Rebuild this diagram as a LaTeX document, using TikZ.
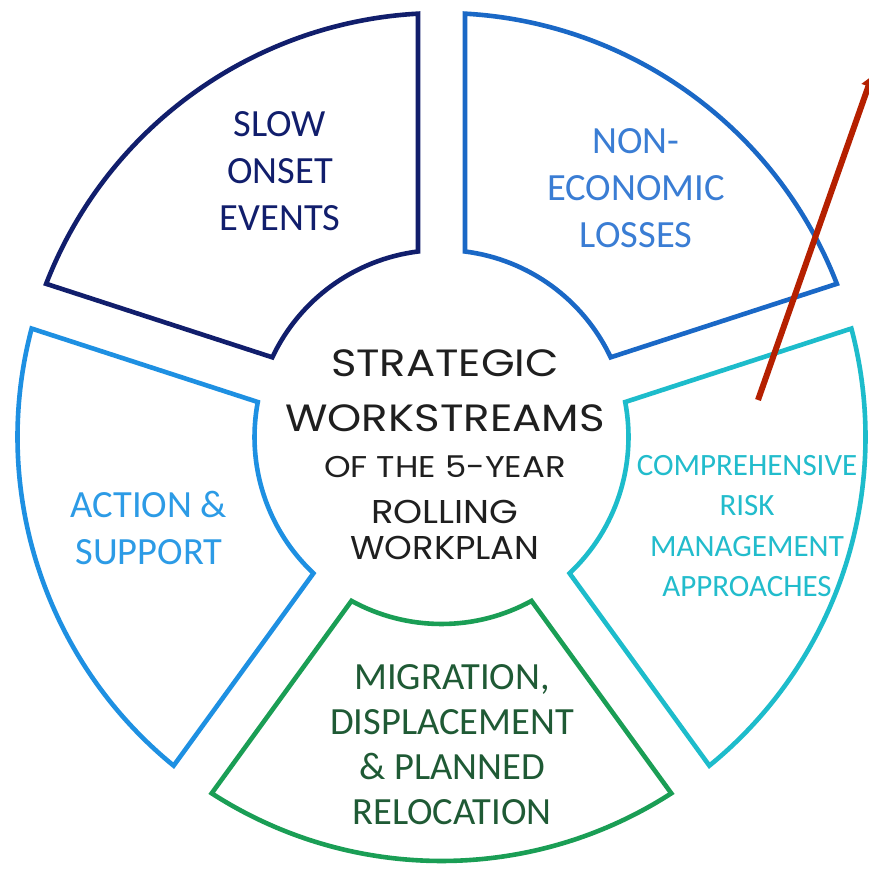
\documentclass[tikz,border=0pt]{standalone}
\usepackage{fontspec}
\setmainfont{Carlito}
\newfontfamily\geofont{Poppins}
\usetikzlibrary{arrows.meta}
\definecolor{navyc}{HTML}{111E6C}
\definecolor{bluec}{HTML}{1A68C6}
\definecolor{bluet}{HTML}{3A7DD4}
\definecolor{cyanc}{HTML}{1DBCCB}
\definecolor{cyant}{HTML}{22BCCC}
\definecolor{greenc}{HTML}{1A9E55}
\definecolor{greent}{HTML}{1F5A35}
\definecolor{actc}{HTML}{1E90E2}
\definecolor{actt}{HTML}{2C9BE6}
\definecolor{redc}{HTML}{B52000}
\tikzset{
  seg/.style={line width=4.6pt, line join=miter},
  lab/.style={align=center, font=\fontsize{38.5}{47}\selectfont, inner sep=0pt},
  smlab/.style={align=center, font=\fontsize{31}{40.5}\selectfont, inner sep=0pt},
  ctext/.style={inner sep=0pt, text=black!88},
}
\newcommand\sectorshape[3]{%
  \draw[seg,#3] ({#1+3.18}:424) arc[start angle={#1+3.18}, end angle={#2-3.18}, radius=424]
    -- ({#2-7.22}:187) arc[start angle={#2-7.22}, end angle={#1+7.22}, radius=187] -- cycle;}
\begin{document}
\begin{tikzpicture}[x=1pt,y=1pt]
\useasboundingbox[fill=white] (0,0) rectangle (869,868);
\begin{scope}[shift={(441.5,431)}]
  \sectorshape{90}{162}{navyc}
  \sectorshape{18}{90}{bluec}
  \sectorshape{-54}{18}{cyanc}
  \sectorshape{234}{306}{greenc}
  \sectorshape{162}{234}{actc}
\end{scope}
\node[lab, text=navyc] (slow) at (280,697) {SLOW\\ONSET\\EVENTS};
\node[lab, text=bluet] (noneco) at (636,680) {NON-\\ECONOMIC\\LOSSES};
\node[smlab, text=cyant] (crm) at (747,342) {COMPREHENSIVE\\RISK\\MANAGEMENT\\APPROACHES};
\node[lab, text=actt] (action) at (149,340) {ACTION \&\\SUPPORT};
\node[lab, text=greent, font=\fontsize{38.5}{45}\selectfont] (migr) at (452,123) {MIGRATION,\\DISPLACEMENT\\\& PLANNED\\RELOCATION};
\node[ctext, font=\geofont\fontsize{38}{38}\selectfont] (c1) at (445,505) {\scalebox{1.14}[1]{STRATEGIC}};
\node[ctext, font=\geofont\fontsize{38}{38}\selectfont] (c2) at (445,450) {\scalebox{1.145}[1]{WORKSTREAMS}};
\node[ctext, font=\geofont\fontsize{30}{30}\selectfont] (c3) at (445,401) {\scalebox{1.13}[1]{OF THE 5-YEAR}};
\node[ctext, font=\geofont\fontsize{33}{33}\selectfont] (c4) at (445,356) {\scalebox{1.12}[1]{ROLLING}};
\node[ctext, font=\geofont\fontsize{33}{33}\selectfont] (c5) at (445,320) {\scalebox{1.07}[1]{WORKPLAN}};
\coordinate (rs) at (758,468);
\coordinate (re) at (872,792);
\draw[redc, line width=6pt, -{Triangle[length=11pt,width=14pt]}] (rs) -- (re);
\end{tikzpicture}
\end{document}
